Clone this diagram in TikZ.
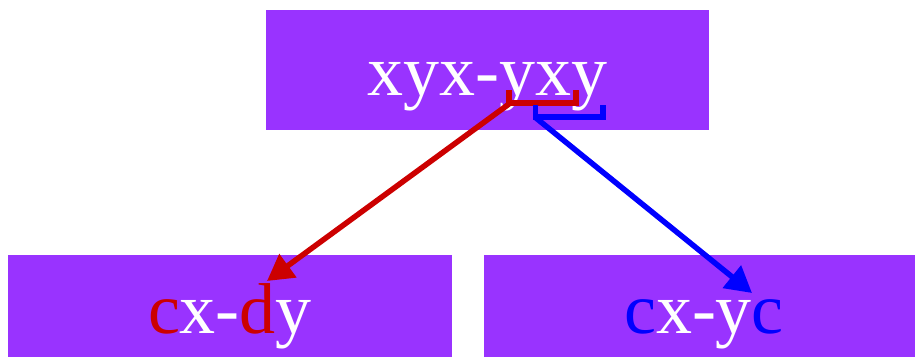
\documentclass[tikz,border=0pt]{standalone}
\usepackage{fontspec}
\setmainfont{Liberation Serif}
\usetikzlibrary{arrows.meta,positioning}
\definecolor{boxpurple}{HTML}{9933FF}
\definecolor{markred}{HTML}{CC0000}
\definecolor{markblue}{HTML}{0000FF}
\newcommand{\rd}[1]{\textcolor{markred}{#1}}
\newcommand{\bl}[1]{\textcolor{markblue}{#1}}

\begin{document}
\begin{tikzpicture}[
    x=1pt, y=-1pt,
    word/.style={rectangle, fill=boxpurple, text=white, inner sep=0pt, minimum height=120pt, text depth=0pt, font=\fontsize{72}{72}\selectfont},
    brace/.style={line width=5.5pt},
    arrow/.style={line width=5.5pt, -{Triangle[length=26pt,width=28pt]}}
]
\useasboundingbox (0,0) rectangle (915,356);
\node[word, minimum width=443pt, text height=50pt] (top) at (487.5,70) {xyx-yxy};
\node[word, minimum width=444pt, text height=36pt] (left) at (230,315) {\rd{c}x-\rd{d}y};
\node[word, minimum width=440pt, text height=36pt] (right) at (704,315) {\bl{c}x-y\bl{c}};

% the two marks under the second word
\draw[brace, markred] (509,90) |- (576,103) -- (576,90);
\draw[brace, markblue] (535.5,105) |- (603,117) -- (603,105);

\coordinate (redfrom) at (509,104);
\coordinate (bluefrom) at (536,118);
\coordinate (redto) at (267,281);
\coordinate (blueto) at (752,293);

\draw[arrow, markred] (redfrom) -- (redto);
\draw[arrow, markblue] (bluefrom) -- (blueto);
\end{tikzpicture}
\end{document}
